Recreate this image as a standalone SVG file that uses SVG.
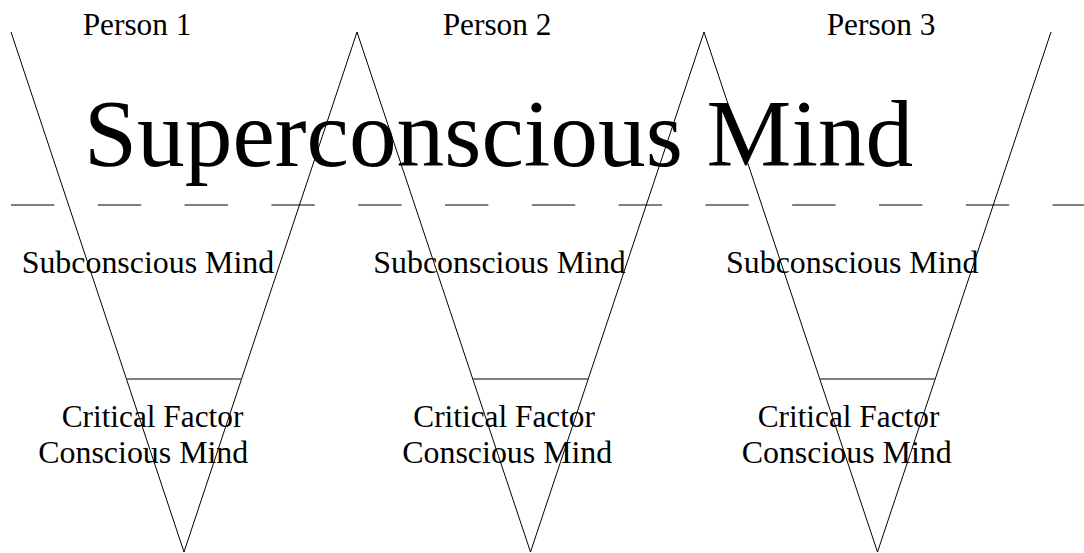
<svg xmlns="http://www.w3.org/2000/svg" width="1084" height="553" viewBox="0 0 1084 553">
<style>
text{font-family:"Liberation Serif","Times New Roman",serif;fill:#000}
.lbl{font-size:31.3px}
.sub{font-size:31.9px}
.big{font-size:95.4px}
.v{fill:none;stroke:#000;stroke-width:1}
.cf{stroke:#555;stroke-width:1.4}
.dash{stroke:#000;stroke-width:1;stroke-dasharray:43.4 43.4}
</style>
<rect width="1084" height="553" fill="#fff"/>
<g id="divider">
<line class="dash" x1="11" y1="205" x2="1084" y2="205"/>
</g>
<g id="person1">
<polyline class="v" points="11,32 184,552 357,32"/>
<line class="cf" x1="126.4" y1="379" x2="241.6" y2="379"/>
<text class="lbl" x="82.7" y="35">Person 1</text>
<text class="sub" x="21.7" y="273">Subconscious Mind</text>
<text class="lbl" x="61.7" y="426.5">Critical Factor</text>
<text class="sub" x="38.3" y="463.3">Conscious Mind</text>
</g>
<g id="person2">
<polyline class="v" points="357,32 530.5,552 704,32"/>
<line class="cf" x1="472.8" y1="379" x2="588.2" y2="379"/>
<text class="lbl" x="442.7" y="35">Person 2</text>
<text class="sub" x="373.3" y="273">Subconscious Mind</text>
<text class="lbl" x="413.3" y="426.5">Critical Factor</text>
<text class="sub" x="402.3" y="463.3">Conscious Mind</text>
</g>
<g id="person3">
<polyline class="v" points="704,32 877.5,552 1051,32"/>
<line class="cf" x1="819.8" y1="379" x2="935.2" y2="379"/>
<text class="lbl" x="826.7" y="35">Person 3</text>
<text class="sub" x="726" y="273">Subconscious Mind</text>
<text class="lbl" x="757.7" y="426.5">Critical Factor</text>
<text class="sub" x="741.7" y="463.3">Conscious Mind</text>
</g>
<g id="superconscious">
<text class="big" x="84" y="166">Superconscious Mind</text>
</g>
</svg>
